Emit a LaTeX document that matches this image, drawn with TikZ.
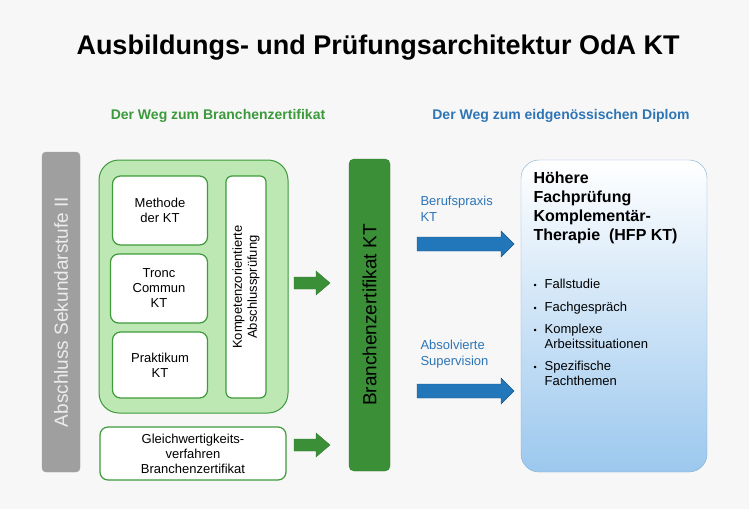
\documentclass[tikz,border=0pt]{standalone}
\usepackage{fontspec}
\setmainfont{Liberation Sans}
\definecolor{gbord}{HTML}{3E9A3A}
\definecolor{gfill}{HTML}{BDE8B4}
\definecolor{dgreen}{HTML}{3A8F37}
\definecolor{tblue}{HTML}{2E75B6}
\definecolor{ablue}{HTML}{2277BB}
\definecolor{bbord}{HTML}{7FAED0}
\definecolor{bbot}{HTML}{9CC8EE}
\definecolor{gtext}{HTML}{3C9A3C}
\newcommand\myblockarrow[7]{% style, x1, x2, y, shaft half, head half, head length
  \draw[#1] (#2,#4-#5) -- (#3-#7,#4-#5) -- (#3-#7,#4-#6) -- (#3,#4) -- (#3-#7,#4+#6) -- (#3-#7,#4+#5) -- (#2,#4+#5) -- cycle;}
\tikzset{
  inbox/.style={draw=gbord, line width=1.2pt, fill=white, rounded corners=8pt, align=center, font=\fontsize{13}{15}\selectfont},
  garrowst/.style={draw=gbord!80!black, fill=dgreen},
  barrowst/.style={draw=ablue!70!black, fill=ablue},
  lbl/.style={anchor=north west, align=left, text=tblue, font=\fontsize{13}{15.5}\selectfont}
}
\begin{document}
\begin{tikzpicture}[x=1pt,y=-1pt]
\useasboundingbox[fill=white] (0,0) rectangle (749,509);
\fill[gray!6] (0,0) rectangle (749,509);
\node (title) at (378,48) {\fontsize{27}{30}\selectfont\bfseries Ausbildungs- und Prüfungsarchitektur OdA KT};
\node[text=gtext] (st1) at (218,116) {\fontsize{14}{16}\selectfont\bfseries Der Weg zum Branchenzertifikat};
\node[text=tblue] (st2) at (561,116) {\fontsize{14}{16}\selectfont\bfseries Der Weg zum eidgenössischen Diplom};
% gray bar
\draw[fill=gray!75, draw=gray!75, rounded corners=4pt] (42,152) rectangle (80,472);
\node[rotate=90, text=gray!15] (abs) at (61,312) {\fontsize{19}{22}\selectfont Abschluss Sekundarstufe II};
% green container
\draw[gbord, line width=1pt, fill=gfill, rounded corners=20pt] (99,160) rectangle (288,413);
\node[inbox, minimum width=95pt, minimum height=69pt] (m) at (160,210.5) {Methode\\der KT};
\node[inbox, minimum width=97pt, minimum height=69pt] (t) at (159,288.5) {Tronc\\Commun\\KT};
\node[inbox, minimum width=95pt, minimum height=66pt] (p) at (160,365) {Praktikum\\KT};
\node[inbox, minimum width=40pt, minimum height=222pt, rounded corners=6pt] (k) at (246,287) {};
\node[rotate=90, align=center, font=\fontsize{13}{15}\selectfont] at (k.center) {Kompetenzorientierte\\Abschlussprüfung};
\node[inbox, minimum width=186pt, minimum height=53pt] (g) at (193,453.5) {Gleichwertigkeits-\\verfahren\\Branchenzertifikat};
% green bar
\draw[fill=dgreen, draw=gbord!80!black, rounded corners=5pt] (349,159) rectangle (390,471);
\node[rotate=90] (bz) at (369.5,315) {\fontsize{19}{22}\selectfont Branchenzertifikat KT};
% green arrows
\myblockarrow{garrowst}{294}{330}{283}{6}{12}{14}
\myblockarrow{garrowst}{294}{330}{445}{6}{12}{14}
% blue box
\shade[top color=white, bottom color=bbot, draw=bbord, rounded corners=18pt] (521,160) rectangle (707,472);
\node[anchor=north west, align=left, font=\fontsize{16}{19}\selectfont\bfseries] (h) at (530,168) {Höhere\\Fachprüfung\\Komplementär-\\Therapie\ \ (HFP KT)};
\node[anchor=north west, align=left, font=\fontsize{13}{14.5}\selectfont] (list) at (530,275) {%
\begin{tabular}{@{}l@{\hspace{8pt}}l@{}}
{\fontsize{9}{9}\selectfont •} & Fallstudie\\[8pt]
{\fontsize{9}{9}\selectfont •} & Fachgespräch\\[8pt]
{\fontsize{9}{9}\selectfont •} & Komplexe\\ & Arbeitssituationen\\[8pt]
{\fontsize{9}{9}\selectfont •} & Spezifische\\ & Fachthemen
\end{tabular}};
% blue arrows and labels
\myblockarrow{barrowst}{417}{514}{244}{7}{13}{13}
\myblockarrow{barrowst}{417}{514}{391}{7}{13}{13}
\node[lbl] (l1) at (417,193) {Berufspraxis\\KT};
\node[lbl] (l2) at (417,337) {Absolvierte\\Supervision};
\end{tikzpicture}
\end{document}
